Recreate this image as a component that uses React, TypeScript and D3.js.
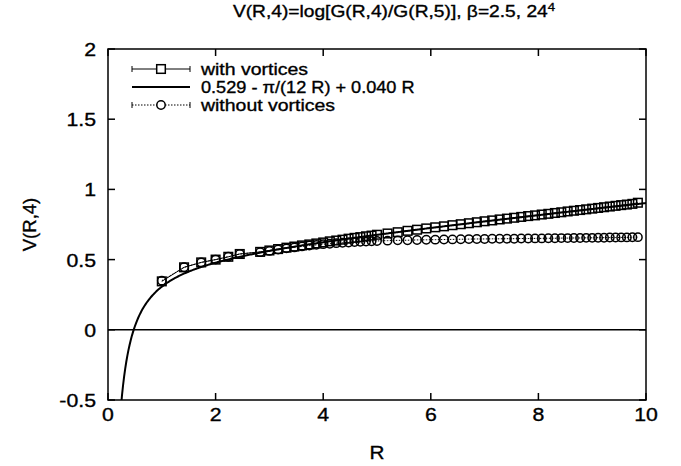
import * as d3 from 'd3';

const W = 681,
  H = 466;
const mLeft = 108,
  mRight = 35,
  mTop = 49,
  mBottom = 66;

// lattice distances R (shared by both series)
const rValues = [
  1, 1.414, 1.732, 2, 2.236, 2.449, 2.828, 3, 3.162, 3.317, 3.464, 3.606,
  3.742, 3.873, 4, 4.123, 4.243, 4.359, 4.472, 4.583, 4.69, 4.796, 4.899, 5,
  5.196, 5.385, 5.568, 5.745, 5.916, 6.083, 6.245, 6.403, 6.557, 6.708, 6.856,
  7, 7.141, 7.28, 7.416, 7.55, 7.681, 7.81, 7.937, 8.062, 8.185, 8.307, 8.426,
  8.544, 8.66, 8.775, 8.888, 9, 9.11, 9.22, 9.327, 9.434, 9.539, 9.644, 9.747,
  9.849,
];

const withVortices = [
  0.345, 0.445, 0.48, 0.5, 0.52, 0.54, 0.555, 0.565, 0.575, 0.585, 0.593,
  0.601, 0.608, 0.615, 0.622, 0.63, 0.636, 0.642, 0.649, 0.655, 0.66, 0.666,
  0.671, 0.677, 0.686, 0.695, 0.705, 0.713, 0.722, 0.73, 0.737, 0.745, 0.752,
  0.759, 0.766, 0.773, 0.779, 0.786, 0.792, 0.798, 0.804, 0.81, 0.815, 0.821,
  0.826, 0.832, 0.837, 0.843, 0.848, 0.853, 0.858, 0.863, 0.868, 0.873, 0.878,
  0.883, 0.888, 0.892, 0.897, 0.905,
];

const withoutVortices = [
  0.35, 0.445, 0.48, 0.5, 0.52, 0.54, 0.553, 0.562, 0.572, 0.58, 0.587, 0.594,
  0.6, 0.605, 0.61, 0.613, 0.617, 0.62, 0.622, 0.625, 0.627, 0.629, 0.631,
  0.633, 0.635, 0.637, 0.638, 0.64, 0.641, 0.642, 0.643, 0.644, 0.645, 0.646,
  0.647, 0.647, 0.648, 0.648, 0.649, 0.649, 0.65, 0.65, 0.651, 0.651, 0.652,
  0.652, 0.653, 0.653, 0.654, 0.654, 0.655, 0.655, 0.656, 0.656, 0.657, 0.657,
  0.658, 0.658, 0.659, 0.66,
];

// fit: a - pi/(12 R) + b R
const fitA = 0.529,
  fitB = 0.04;

const xTicks = [0, 2, 4, 6, 8, 10];
const yTicks = [-0.5, 0, 0.5, 1, 1.5, 2];

const font = '"Liberation Sans", Arial, Helvetica, sans-serif';

// text a bit wider/heavier than the plain font, like the scanned figure
function T({ x, y, anchor = 'start', fs, sx = 1.18, children }: any) {
  return (
    <g transform={`translate(${x},${y}) scale(${sx},1)`}>
      <text textAnchor={anchor} fontSize={fs} stroke="#000" strokeWidth={0.35}>
        {children}
      </text>
    </g>
  );
}

export default function App() {
  const x = d3
    .scaleLinear()
    .domain([0, 10])
    .range([mLeft, W - mRight]);
  const y = d3
    .scaleLinear()
    .domain([-0.5, 2])
    .range([H - mBottom, mTop]);

  const fitPts = d3.range(0.2, 10.0001, 0.02).map((r) => [
    r,
    fitA - Math.PI / (12 * r) + fitB * r,
  ]);
  const line = d3
    .line<number[]>()
    .x((d) => x(d[0]))
    .y((d) => y(d[1]));

  const withPts = rValues.map((r, i) => [r, withVortices[i]]);
  const withoutPts = rValues.map((r, i) => [r, withoutVortices[i]]);

  const tick = 7;
  const sq = 4.3;
  const legX0 = 132,
    legX1 = 190,
    legText = 201;
  const legRows = [69, 87, 105];

  return (
    <svg
      width={W}
      height={H}
      style={{ position: 'absolute', left: 0, top: 0, background: '#fff' }}
      fontFamily={font}
    >
      <defs>
        <clipPath id="plot">
          <rect
            x={x(0)}
            y={y(2)}
            width={x(10) - x(0)}
            height={y(-0.5) - y(2)}
          />
        </clipPath>
      </defs>

      <T x={394} y={17} anchor="middle" fs={16} sx={1.2}>
        V(R,4)=log[G(R,4)/G(R,5)], β=2.5, 24
        <tspan dy={-6} fontSize={11}>
          4
        </tspan>
      </T>

      {/* ticks */}
      {xTicks.map((t) => (
        <g key={'x' + t}>
          <line x1={x(t)} x2={x(t)} y1={y(-0.5)} y2={y(-0.5) - tick} stroke="#000" strokeWidth={1.5} />
          <line x1={x(t)} x2={x(t)} y1={y(2)} y2={y(2) + tick} stroke="#000" strokeWidth={1.5} />
          <T x={x(t)} y={y(-0.5) + 21} anchor="middle" fs={19} sx={1.12}>
            {t}
          </T>
        </g>
      ))}
      {yTicks.map((t) => (
        <g key={'y' + t}>
          <line x1={x(0)} x2={x(0) + tick} y1={y(t)} y2={y(t)} stroke="#000" strokeWidth={1.5} />
          <line x1={x(10)} x2={x(10) - tick} y1={y(t)} y2={y(t)} stroke="#000" strokeWidth={1.5} />
          <T x={96} y={y(t) + 7} anchor="end" fs={19} sx={1.12}>
            {t}
          </T>
        </g>
      ))}

      {/* zero line */}
      <line x1={x(0)} x2={x(10)} y1={y(0)} y2={y(0)} stroke="#000" strokeWidth={1.5} />

      <g clipPath="url(#plot)">
        <path d={line(withPts) || ''} fill="none" stroke="#000" strokeWidth={1} />
        <path
          d={line(withoutPts) || ''}
          fill="none"
          stroke="#000"
          strokeWidth={1}
          strokeDasharray="1.5,1.5"
        />
        <path d={line(fitPts) || ''} fill="none" stroke="#000" strokeWidth={2} />
        {withoutPts.map((d, i) => (
          <circle
            key={'c' + i}
            cx={x(d[0])}
            cy={y(d[1])}
            r={4.2}
            fill="none"
            stroke="#000"
            strokeWidth={1.5}
          />
        ))}
        {withPts.map((d, i) => (
          <rect
            key={'s' + i}
            x={x(d[0]) - sq}
            y={y(d[1]) - sq}
            width={sq * 2}
            height={sq * 2}
            fill="none"
            stroke="#000"
            strokeWidth={1.5}
          />
        ))}
      </g>

      {/* frame */}
      <rect
        x={x(0)}
        y={y(2)}
        width={x(10) - x(0)}
        height={y(-0.5) - y(2)}
        fill="none"
        stroke="#000"
        strokeWidth={1.5}
      />

      {/* legend */}
      <g>
        <line x1={legX0} x2={legX1} y1={legRows[0]} y2={legRows[0]} stroke="#000" strokeWidth={1} />
        <line x1={legX0} x2={legX0} y1={legRows[0] - 3} y2={legRows[0] + 3} stroke="#000" strokeWidth={1} />
        <line x1={legX1} x2={legX1} y1={legRows[0] - 3} y2={legRows[0] + 3} stroke="#000" strokeWidth={1} />
        <rect
          x={(legX0 + legX1) / 2 - sq}
          y={legRows[0] - sq}
          width={sq * 2}
          height={sq * 2}
          fill="#fff"
          stroke="#000"
          strokeWidth={1.5}
        />
        <T x={legText} y={legRows[0] + 6} fs={16.5} sx={1.18}>
          with vortices
        </T>

        <line x1={legX0} x2={legX1} y1={legRows[1]} y2={legRows[1]} stroke="#000" strokeWidth={2} />
        <T x={legText} y={legRows[1] + 6} fs={16.5} sx={1.1}>
          0.529 - π/(12 R) + 0.040 R
        </T>

        <line
          x1={legX0}
          x2={legX1}
          y1={legRows[2]}
          y2={legRows[2]}
          stroke="#000"
          strokeWidth={1}
          strokeDasharray="1.5,1.5"
        />
        <line x1={legX0} x2={legX0} y1={legRows[2] - 3} y2={legRows[2] + 3} stroke="#000" strokeWidth={1} />
        <line x1={legX1} x2={legX1} y1={legRows[2] - 3} y2={legRows[2] + 3} stroke="#000" strokeWidth={1} />
        <circle cx={(legX0 + legX1) / 2} cy={legRows[2]} r={4.2} fill="#fff" stroke="#000" strokeWidth={1.5} />
        <T x={legText} y={legRows[2] + 6} fs={16.5} sx={1.18}>
          without vortices
        </T>
      </g>

      {/* axis titles */}
      <T x={x(5)} y={H - 7} anchor="middle" fs={18.5} sx={1.12}>
        R
      </T>
      <text
        transform={`translate(36,${y(0.75)}) rotate(-90)`}
        textAnchor="middle"
        fontSize={18.5}
        stroke="#000"
        strokeWidth={0.35}
      >
        V(R,4)
      </text>
    </svg>
  );
}
